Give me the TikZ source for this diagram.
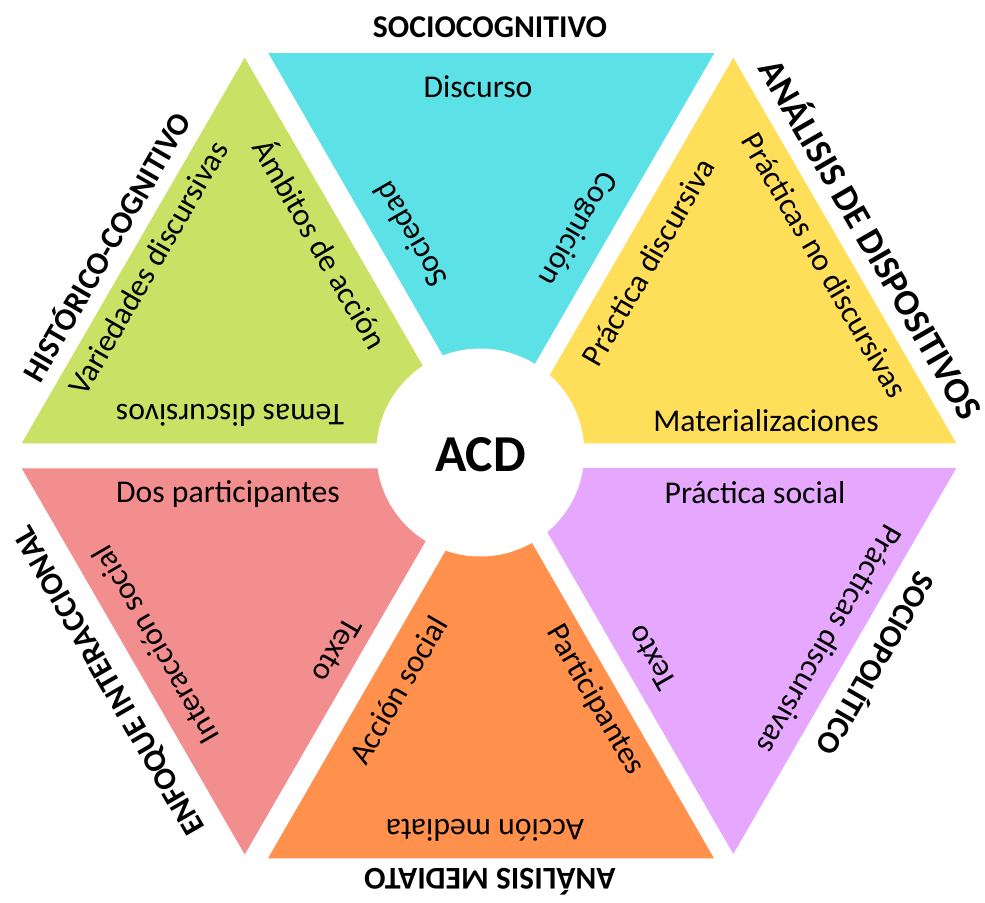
\documentclass[tikz,border=0pt]{standalone}
\usepackage{fontspec}
\setmainfont{Carlito}
\definecolor{cyanT}{HTML}{5CE1E6}
\definecolor{yellowT}{HTML}{FFDE59}
\definecolor{greenT}{HTML}{C9E265}
\definecolor{pinkT}{HTML}{F38E8E}
\definecolor{orangeT}{HTML}{FF914D}
\definecolor{purpleT}{HTML}{E6A8FE}
\begin{document}
\begin{tikzpicture}[x=1bp,y=-1bp,
  lab/.style={font=\fontsize{31.8}{36}\selectfont, inner sep=0pt, text=black},
  outerlab/.style={font=\fontsize{31.8}{36}\selectfont\bfseries, inner sep=0pt, text=black},
  tri/.style={draw=none}]
\useasboundingbox (0,0) rectangle (985,903);
\fill[white] (0,0) rectangle (985,903);
% triangles
\fill[greenT]  (21.7,443.3) -- (467.7,443.3) -- (244.7,57.7) -- cycle;
\fill[yellowT] (510.3,443.3) -- (956.3,443.3) -- (733.3,57.7) -- cycle;
\fill[cyanT]   (268.3,53) -- (714.3,53) -- (491.3,439.3) -- cycle;
\fill[pinkT]   (21.7,468.3) -- (467.7,468.3) -- (244.7,854.5) -- cycle;
\fill[purpleT] (510.3,468) -- (956.3,468) -- (733.3,854) -- cycle;
\fill[orangeT] (268,858.3) -- (714,858.3) -- (491,472) -- cycle;
% center circle
\node[circle, fill=white, minimum size=208bp, inner sep=0pt] (acdc) at (480.3,452.5) {};
\node[outerlab, font=\fontsize{52}{60}\selectfont\bfseries] (acd) at (480.5,455) {ACD};
% outer labels
\node[outerlab] (socog) at (490,27) {SOCIOCOGNITIVO};
\node[outerlab, font=\fontsize{36.8}{42}\selectfont\bfseries, rotate=-60] (adisp) at (873,238) {ANÁLISIS DE DISPOSITIVOS};
\node[outerlab, rotate=-120] (sopol) at (878,665) {SOCIOPOLÍTICO};
\node[outerlab, rotate=180] (amed) at (490,882) {ANÁLISIS MEDIATO};
\node[outerlab, rotate=120] (enfo) at (110,680) {ENFOQUE INTERACCIONAL};
\node[outerlab, rotate=60] (hist) at (105,246) {HISTÓRICO-COGNITIVO};
% cyan
\node[lab] (disc) at (478,87) {Discurso};
\node[lab, rotate=120] (soc) at (410,235) {Sociedad};
\node[lab, rotate=-120] (cog) at (577,228) {Cognición};
% yellow
\node[lab, rotate=60] (pdisc) at (648,262) {Práctica discursiva};
\node[lab, rotate=-60] (pnod) at (825,265) {Prácticas no discursivas};
\node[lab] (mat) at (766,421) {Materializaciones};
% purple
\node[lab] (psoc) at (755,493) {Práctica social};
\node[lab, rotate=-120] (pdiscs) at (830,640) {Prácticas discursivas};
\node[lab, rotate=120] (texto1) at (652,658) {Texto};
% orange
\node[lab, rotate=-60] (part) at (595,700) {Participantes};
\node[lab, rotate=60] (asoc) at (398,690) {Acción social};
\node[lab, rotate=180] (amedi) at (485,830) {Acción mediata};
% pink
\node[lab] (dosp) at (228,494) {Dos participantes};
\node[lab, rotate=120] (inter) at (155,645) {Interacción social};
\node[lab, rotate=-120] (texto2) at (337,650) {Texto};
% green
\node[lab, rotate=180] (temas) at (230,415) {Temas discursivos};
\node[lab, rotate=60] (vari) at (148,268) {Variedades discursivas};
\node[lab, rotate=-60] (ambi) at (322,243) {Ámbitos de acción};
\end{tikzpicture}
\end{document}
